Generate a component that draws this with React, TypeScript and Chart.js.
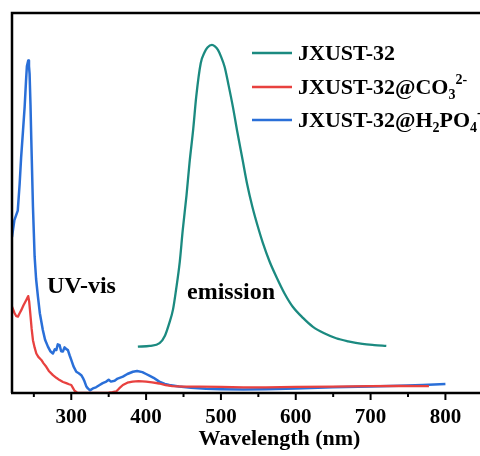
import { useEffect, useRef } from "react";
import { Chart, registerables } from "chart.js";

Chart.register(...registerables);

// Emission spectrum (JXUST-32)
const emissionWl = [389, 405, 418, 425, 431, 436, 440, 445, 449, 454, 458, 463, 467, 473, 478, 482, 488, 492, 496, 500, 505, 510, 516, 522, 529, 535, 542, 549, 556, 565, 574, 585, 596, 610, 623, 638, 654, 670, 689, 705, 721];
const emissionVal = [12.2, 12.4, 13.1, 15.0, 18.4, 22.0, 27.1, 34.5, 42.9, 52.0, 60.5, 69.5, 78.0, 86.8, 89.6, 90.9, 91.6, 91.2, 90.3, 88.6, 85.8, 81.2, 75.3, 68.6, 61.3, 55.0, 49.0, 44.0, 39.5, 34.6, 30.6, 26.2, 22.7, 19.7, 17.4, 15.7, 14.4, 13.6, 12.9, 12.6, 12.4];

// UV-vis JXUST-32@CO3^2-
const co3Wl = [220.8, 224.3, 226.5, 228.7, 231, 233.2, 236, 239.9, 242.5, 243.8, 245.2, 247, 248.8, 251, 253.3, 256, 260, 263, 266.6, 270, 275.5, 280, 284.4, 289, 293.3, 297, 300, 302, 304.4, 308, 315, 325, 340, 350, 355, 360, 364, 369, 375, 382, 390, 400, 408, 417.6, 426, 435, 450, 471, 500, 530, 560, 600, 649, 700, 738, 778];
const co3Val = [22.7, 21.0, 20.2, 20.1, 21.0, 21.8, 23.0, 24.5, 25.5, 24.0, 21.0, 17.0, 13.9, 12.0, 10.4, 9.5, 8.7, 7.8, 6.9, 5.8, 4.7, 4.0, 3.4, 2.9, 2.6, 2.3, 2.1, 1.4, 0.6, 0.1, 0.0, 0.0, 0.0, 0.1, 0.2, 0.4, 1.2, 2.1, 2.7, 3.0, 3.1, 3.0, 2.8, 2.5, 2.1, 1.8, 1.7, 1.7, 1.6, 1.5, 1.5, 1.6, 1.7, 1.8, 1.9, 1.8];

// UV-vis JXUST-32@H2PO4^-
const h2po4Wl = [220.8, 224, 228.5, 231, 233, 235.5, 237.7, 239.5, 240.7, 242.5, 243.5, 244.3, 245.5, 246.6, 248.8, 250, 251, 253, 255.5, 258, 262, 265, 268.8, 272, 275.5, 278, 280, 282, 284.4, 286.5, 288.8, 291, 293, 295.5, 298, 300, 303, 306.7, 310, 313.4, 315.5, 317.8, 320, 322.2, 325, 328.9, 333, 337.9, 342, 346.8, 350, 353, 357.9, 362, 369, 375, 382.4, 388, 395, 400, 405, 410, 417.6, 425, 431, 444, 460, 480, 500, 530, 560, 600, 649, 700, 738, 770, 800];
const h2po4Val = [41.0, 45.5, 48.0, 55.0, 62.0, 69.0, 75.3, 82.0, 86.0, 87.5, 86.0, 84.0, 76.0, 66.6, 49.0, 42.0, 36.0, 30.0, 25.3, 21.0, 16.6, 14.0, 12.2, 11.0, 10.4, 11.5, 11.3, 12.8, 12.6, 11.0, 10.9, 12.0, 11.6, 11.3, 9.8, 8.7, 7.0, 5.6, 5.2, 4.7, 4.0, 3.0, 1.8, 1.2, 0.7, 1.2, 1.5, 2.1, 2.6, 3.0, 3.5, 3.0, 3.2, 3.8, 4.3, 5.0, 5.6, 5.8, 5.5, 5.0, 4.5, 4.0, 3.0, 2.4, 2.1, 1.7, 1.4, 1.1, 1.0, 0.9, 1.0, 1.2, 1.5, 1.7, 1.9, 2.1, 2.4];

const xMin = 220.8;
const xMax = 935.6;
const xTickLabels = [300, 400, 500, 600, 700, 800, 900];

const seriesNames = ["JXUST-32", "JXUST-32@CO₃²⁻", "JXUST-32@H₂PO₄⁻"];
const seriesColors = ["#1b8a80", "#e8413f", "#2a6fd8"];

type Seg = { t: string; sub?: boolean; sup?: boolean };
const legendSegments: Seg[][] = [
  [{ t: "JXUST-32" }],
  [{ t: "JXUST-32@CO" }, { t: "3", sub: true }, { t: "2-", sup: true }],
  [{ t: "JXUST-32@H" }, { t: "2", sub: true }, { t: "PO" }, { t: "4", sub: true }, { t: "-", sup: true }],
];

const annotationTexts = ["UV-vis", "emission"];

const FONT = "'Liberation Serif', 'Times New Roman', serif";

const toPoints = (xs: number[], ys: number[]) => xs.map((x, i) => ({ x, y: ys[i] }));

const decorPlugin = {
  id: "decor",
  afterDatasetsDraw(chart: any) {
    const { ctx, chartArea, scales } = chart;
    const xs = scales.x;
    ctx.save();
    ctx.strokeStyle = "#000";
    ctx.lineCap = "butt";
    // frame: left, top, bottom
    ctx.lineWidth = 2.5;
    ctx.beginPath();
    ctx.moveTo(chartArea.left, chartArea.bottom);
    ctx.lineTo(chartArea.left, chartArea.top);
    ctx.lineTo(chartArea.right, chartArea.top);
    ctx.stroke();
    ctx.beginPath();
    ctx.moveTo(chartArea.left - 1, chartArea.bottom);
    ctx.lineTo(chartArea.right, chartArea.bottom);
    ctx.stroke();
    // ticks (major every 100, minor every 50)
    ctx.lineWidth = 2;
    for (const t of xs.ticks) {
      const px = xs.getPixelForValue(t.value);
      const major = Math.abs(t.value % 100) < 1e-6;
      ctx.beginPath();
      ctx.moveTo(px, chartArea.bottom);
      ctx.lineTo(px, chartArea.bottom + (major ? 7 : 4));
      ctx.stroke();
    }
    // legend
    const lx0 = 252;
    const lx1 = 292;
    const rowY = [53, 87, 120];
    legendSegments.forEach((segs, i) => {
      const y = rowY[i];
      ctx.strokeStyle = seriesColors[i];
      ctx.lineWidth = 2.5;
      ctx.beginPath();
      ctx.moveTo(lx0, y);
      ctx.lineTo(lx1, y);
      ctx.stroke();
      let x = 298;
      ctx.fillStyle = "#000";
      ctx.textBaseline = "alphabetic";
      ctx.textAlign = "left";
      const base = y + 7;
      for (const s of segs) {
        if (s.sub || s.sup) {
          ctx.font = `bold 14px ${FONT}`;
          ctx.fillText(s.t, x, s.sub ? base + 5 : base - 10);
        } else {
          ctx.font = `bold 22px ${FONT}`;
          ctx.fillText(s.t, x, base);
        }
        x += ctx.measureText(s.t).width;
      }
    });
    // annotations
    ctx.fillStyle = "#000";
    ctx.font = `bold 24px ${FONT}`;
    ctx.textBaseline = "middle";
    ctx.fillText(annotationTexts[0], 47, 287);
    ctx.fillText(annotationTexts[1], 187, 293);
    ctx.restore();
  },
};

export default function App() {
  const ref = useRef<HTMLCanvasElement | null>(null);
  useEffect(() => {
    document.body.style.margin = "0";
    const canvas = ref.current;
    if (!canvas) return;
    const chart = new Chart(canvas, {
      type: "line",
      data: {
        datasets: [
          {
            label: seriesNames[0],
            data: toPoints(emissionWl, emissionVal),
            borderColor: seriesColors[0],
            borderWidth: 2.3,
            pointRadius: 0,
            cubicInterpolationMode: "monotone",
            borderJoinStyle: "round",
          },
          {
            label: seriesNames[1],
            data: toPoints(co3Wl, co3Val),
            borderColor: seriesColors[1],
            borderWidth: 2.3,
            pointRadius: 0,
            tension: 0,
            borderJoinStyle: "round",
          },
          {
            label: seriesNames[2],
            data: toPoints(h2po4Wl, h2po4Val),
            borderColor: seriesColors[2],
            borderWidth: 2.5,
            pointRadius: 0,
            tension: 0,
            borderJoinStyle: "round",
          },
        ],
      },
      options: {
        animation: false,
        responsive: false,
        devicePixelRatio: 1,
        layout: { padding: { left: 12, top: 13, right: 0, bottom: 0 } },
        plugins: { legend: { display: false }, tooltip: { enabled: false } },
        scales: {
          x: {
            type: "linear",
            min: xMin,
            max: xMax,
            offset: false,
            grid: { display: false, drawTicks: false },
            border: { display: false },
            ticks: {
              stepSize: 50,
              includeBounds: false,
              autoSkip: false,
              maxRotation: 0,
              padding: 12,
              color: "#000",
              font: { family: FONT, size: 21, weight: "bold" },
              callback: (v: any) => (xTickLabels.includes(Number(v)) ? String(v) : ""),
            },
            title: {
              display: true,
              text: "Wavelength (nm)",
              color: "#000",
              font: { family: FONT, size: 22, weight: "bold" },
              padding: { top: 0, bottom: 3 },
            },
            afterFit: (scale: any) => {
              scale.height = 63;
            },
          },
          y: {
            display: false,
            min: 0,
            max: 100,
          },
        },
      },
      plugins: [decorPlugin],
    });
    return () => chart.destroy();
  }, []);
  return (
    <div style={{ width: 480, height: 456, overflow: "hidden", position: "relative" }}>
      <canvas ref={ref} width={548} height={456} style={{ display: "block" }} />
    </div>
  );
}
